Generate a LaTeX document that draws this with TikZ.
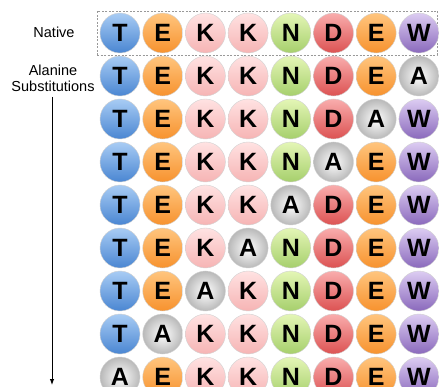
\documentclass[tikz,border=0pt]{standalone}
\usepackage{fontspec}
\setmainfont{Liberation Sans}
\usetikzlibrary{arrows.meta}
\definecolor{Ttop}{HTML}{A8CCF4}\definecolor{Tbot}{HTML}{4A86D2}
\definecolor{Etop}{HTML}{FFC57E}\definecolor{Ebot}{HTML}{F7922E}
\definecolor{Ktop}{HTML}{FFE2E2}\definecolor{Kbot}{HTML}{F6B4B4}
\definecolor{Ntop}{HTML}{E4F6B6}\definecolor{Nbot}{HTML}{A6CF6C}
\definecolor{Dtop}{HTML}{F9ADAD}\definecolor{Dbot}{HTML}{DC5252}
\definecolor{Wtop}{HTML}{DCCCF2}\definecolor{Wbot}{HTML}{8A69BC}
\tikzset{
  res/.style={circle, minimum size=40pt, inner sep=0pt, draw=gray!35, line width=0.4pt,
    font=\bfseries\fontsize{25}{25}\selectfont, text=black, res#1/.try},
  resT/.style={top color=Ttop, bottom color=Tbot},
  resE/.style={top color=Etop, bottom color=Ebot},
  resK/.style={top color=Ktop, bottom color=Kbot},
  resN/.style={top color=Ntop, bottom color=Nbot},
  resD/.style={top color=Dtop, bottom color=Dbot},
  resW/.style={top color=Wtop, bottom color=Wbot},
  resA/.style={inner color=white, outer color=gray!55},
  lab/.style={font=\fontsize{14.5}{16}\selectfont, align=center, text=black},
}
\begin{document}
\begin{tikzpicture}[x=1pt, y=-1pt]
\clip (0,0) rectangle (439,387);
\fill[white] (0,0) rectangle (439,387);
\node[draw=gray!80, dashed, dash pattern=on 2pt off 1.5pt, line width=0.6pt,
  minimum width=340pt, minimum height=44pt, inner sep=0pt] (nativebox) at (267,33) {};
\foreach \r/\row in {0/{T,E,K,K,N,D,E,W},1/{T,E,K,K,N,D,E,A},2/{T,E,K,K,N,D,A,W},
  3/{T,E,K,K,N,A,E,W},4/{T,E,K,K,A,D,E,W},5/{T,E,K,A,N,D,E,W},6/{T,E,A,K,N,D,E,W},
  7/{T,A,K,K,N,D,E,W},8/{A,E,K,K,N,D,E,W}}{
  \foreach \aa [count=\c from 0] in \row {
    \node[res/.expanded=\aa] (n\r-\c) at (120+42.7*\c, 33+43*\r) {\aa};
  }
}
\node[lab] (native) at (54,32) {Native};
\node[lab, inner sep=0pt] (subst) at (53,78) {Alanine\\Substitutions};
\coordinate (arrtop) at (52,97);
\coordinate (arrbot) at (52,385);
\draw[line width=1pt, -{Latex[length=6pt,width=4.5pt]}] (arrtop) -- (arrbot);
\end{tikzpicture}
\end{document}
